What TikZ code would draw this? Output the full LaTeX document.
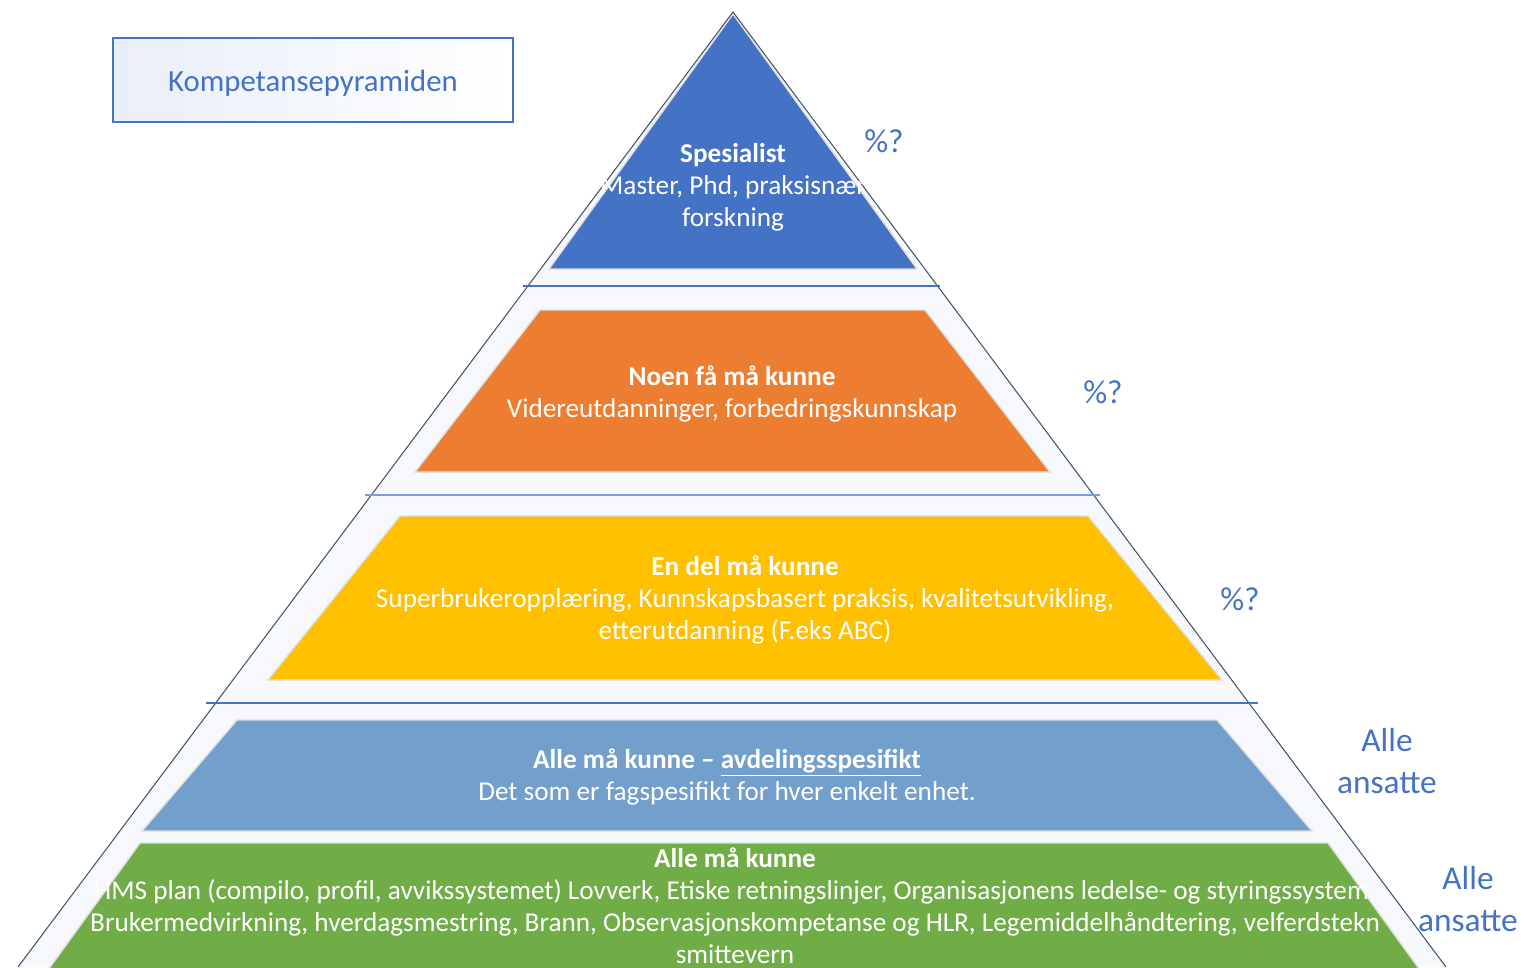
\documentclass[tikz,border=0pt]{standalone}
\usepackage{fontspec}
\setmainfont{Carlito}
\usepackage{xcolor}
\usetikzlibrary{positioning}

\definecolor{topblue}{HTML}{4472C4}
\definecolor{midorange}{HTML}{ED7D31}
\definecolor{midyellow}{HTML}{FFC000}
\definecolor{steelband}{HTML}{739FCC}
\definecolor{basegreen}{HTML}{70AD47}
\definecolor{edgeline}{HTML}{44546A}
\definecolor{faintfill}{HTML}{F6F8FC}

\tikzset{
  band/.style={draw=black!12, line width=0.8pt},
  bandtext/.style={text=white, align=center, inner sep=0pt, font=\fontsize{15.5}{18.14}\selectfont},
  pct/.style={text=topblue, align=center, inner sep=0pt, font=\fontsize{19}{23.8}\selectfont},
}

\begin{document}
\begin{tikzpicture}[x=0.02cm, y=-0.02cm]
            \useasboundingbox (0,0) rectangle (1524,967);

            % faint fill inside the outer triangle
            \fill[faintfill] (733,12) -- (18,967) -- (1446,967) -- cycle;

            % the five bands
            \fill[band, fill=topblue] (733,14) -- (917,269) -- (549,269) -- cycle;
            \fill[band, fill=midorange] (540,310) -- (925,310) -- (1050,472) -- (415,472) -- cycle;
            \fill[band, fill=midyellow] (400,516) -- (1088,516) -- (1222,680) -- (268,680) -- cycle;
            \fill[band, fill=steelband] (237,720) -- (1217,720) -- (1312,831) -- (142,831) -- cycle;
            \fill[band, fill=basegreen] (140,843) -- (1328,843) -- (1420,970) -- (48,970) -- cycle;

            % outer lines and level lines
            \draw[edgeline, line width=0.6pt] (18,967) -- (733,12) -- (1446,967);
            \draw[topblue, line width=0.8pt] (523,286) -- (940,286);
            \draw[topblue!70, line width=0.8pt] (365,495) -- (1100,495);
            \draw[topblue, line width=0.8pt] (206,703) -- (1258,703);

            % title box
            \node[draw=topblue, line width=0.9pt, left color=topblue!12, right color=white,
                  minimum width=8cm, minimum height=1.68cm, text=topblue,
                  font=\fontsize{17.5}{20}\selectfont] (title) at (313,80) {};
            \node[text=topblue, inner sep=0pt, font=\fontsize{17.5}{20}\selectfont] (titletext) at (313,83) {Kompetansepyramiden};

            % texts in the bands
            \node[bandtext] (spesialist) at (733,187) {\textbf{Spesialist}\\Master, Phd, praksisnær\\forskning};
            \node[bandtext] (noen) at (732,394) {\textbf{Noen få må kunne}\\Videreutdanninger, forbedringskunnskap};
            \node[bandtext] (endel) at (745,600) {\textbf{En del må kunne}\\Superbrukeropplæring, Kunnskapsbasert praksis, kvalitetsutvikling,\\etterutdanning (F.eks ABC)};
            \node[bandtext] (avdeling) at (727,777) {\textbf{Alle må kunne – \underline{avdelingsspesifikt}}\\Det som er fagspesifikt for hver enkelt enhet.};
            \node[bandtext] (alle) at (735,906) {\textbf{Alle må kunne}\\HMS plan (compilo, profil, avvikssystemet) Lovverk, Etiske retningslinjer, Organisasjonens ledelse- og styringssystem,\\Brukermedvirkning, hverdagsmestring, Brann, Observasjonskompetanse og HLR, Legemiddelhåndtering, velferdstekn\\smittevern};

            % shares at the side
            \node[pct] (p1) at (884,141) {\%?};
            \node[pct] (p2) at (1103,392) {\%?};
            \node[pct] (p3) at (1240,599) {\%?};
            \node[pct] (a1) at (1387,761) {Alle\\ansatte};
            \node[pct] (a2) at (1468,899) {Alle\\ansatte};
        \end{tikzpicture}
\end{document}
